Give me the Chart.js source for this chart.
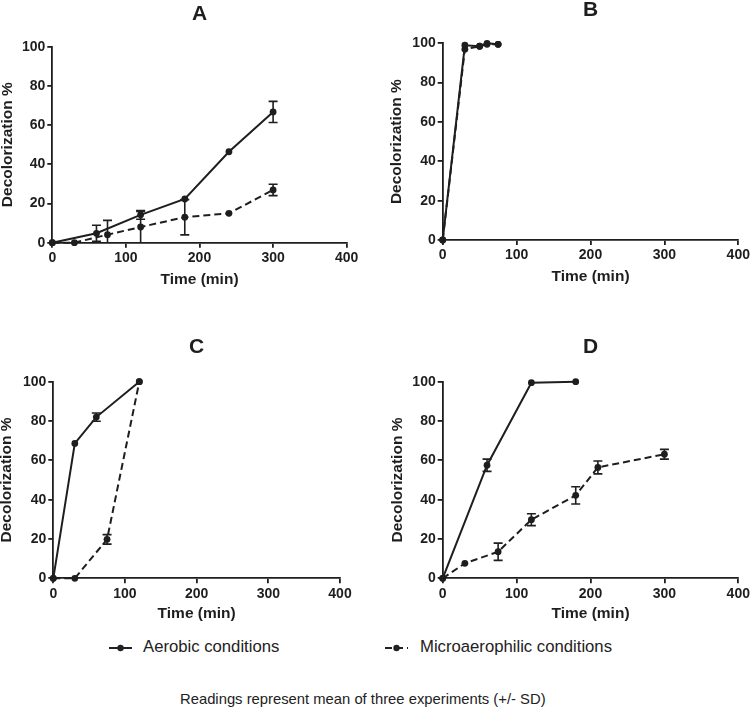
<!DOCTYPE html>
<html>
<head>
<meta charset="utf-8">
<script src="https://cdn.jsdelivr.net/npm/chart.js@4.4.1/dist/chart.umd.min.js"></script>
<style>
  body { margin: 0; background: #fff; width: 750px; height: 709px; overflow: hidden; position: relative;
         font-family: "Liberation Sans", Arial, sans-serif; color: #222; }
  canvas { position: absolute; }
  .txt { position: absolute; white-space: nowrap; line-height: 1; }
  .sym { position: absolute; }
</style>
</head>
<body>
<canvas id="cA"></canvas>
<canvas id="cB"></canvas>
<canvas id="cC"></canvas>
<canvas id="cD"></canvas>

<svg class="sym" style="left:108px;top:643px" width="26" height="10">
  <line x1="1" y1="5" x2="24" y2="5" stroke="#222" stroke-width="2"/>
  <circle cx="12.5" cy="5" r="3.2" fill="#222"/>
</svg>
<div class="txt" style="left:143px;top:639px;font-size:16.7px">Aerobic conditions</div>
<svg class="sym" style="left:384px;top:643px" width="26" height="10">
  <line x1="1" y1="5" x2="24" y2="5" stroke="#222" stroke-width="2" stroke-dasharray="7,4"/>
  <circle cx="12.5" cy="5" r="3.2" fill="#222"/>
</svg>
<div class="txt" style="left:420px;top:639px;font-size:16.7px">Microaerophilic conditions</div>
<div class="txt" style="left:180px;top:692px;font-size:14.8px">Readings represent mean of three experiments (+/- SD)</div>

<script>
// Panel A
const timeA_aer = [0, 60, 120, 180, 240, 300];
const decA_aer = [0, 4.8, 14.2, 22.3, 46.4, 66.7];
const sdA_aer = [0, 4.1, 2.2, 0, 0, 5.4];
const timeA_mic = [0, 30, 75, 120, 180, 240, 300];
const decA_mic = [0, 0, 4.1, 8, 13, 15, 26.9];
const sdA_mic = [0, 0, 7.3, 8, 9, 0, 2.9];

// Panel B
const timeB_aer = [0, 30, 50, 60, 75];
const decB_aer = [0, 99, 98.5, 100, 99.5];
const timeB_mic = [0, 30, 50, 60, 75];
const decB_mic = [0, 97, 98.5, 99.5, 99.5];

// Panel C
const timeC_aer = [0, 30, 60, 120];
const decC_aer = [0, 68.6, 82, 100];
const sdC_aer = [0, 0, 2.1, 0];
const timeC_mic = [0, 30, 75, 120];
const decC_mic = [0, 0, 19.8, 100];
const sdC_mic = [0, 0, 2.4, 0];

// Panel D
const timeD_aer = [0, 60, 120, 180];
const decD_aer = [0, 57.5, 99.5, 100];
const sdD_aer = [0, 3.1, 0, 0];
const timeD_mic = [0, 30, 75, 120, 180, 210, 300];
const decD_mic = [0, 7.6, 13.5, 29.8, 42.2, 56.4, 63.1];
const sdD_mic = [0, 0, 4.4, 3.0, 4.4, 3.3, 2.5];

const xTicks = [0, 100, 200, 300, 400];
const yTicks = [0, 20, 40, 60, 80, 100];
const seriesNames = ['Aerobic conditions', 'Microaerophilic conditions'];

const ink = '#1e1e1e';
const fontFamily = '"Liberation Sans", Arial, sans-serif';
const titleSize = 15.5;

function pts(xs, ys) {
  return xs.map((x, i) => ({ x: x, y: ys[i] }));
}

// vertical SD bars with caps, drawn through the chart's own scales
const errorBars = {
  id: 'errorBars',
  afterDatasetsDraw(chart) {
    const ctx = chart.ctx;
    const xs = chart.scales.x, ys = chart.scales.y;
    chart.data.datasets.forEach(ds => {
      if (!ds.errors) return;
      ds.data.forEach((p, i) => {
        const e = ds.errors[i];
        if (!e) return;
        const lo = Math.max(ys.min, p.y - e);
        const px = xs.getPixelForValue(p.x);
        const yTop = ys.getPixelForValue(p.y + e);
        const yBot = ys.getPixelForValue(lo);
        ctx.save();
        ctx.strokeStyle = ink;
        ctx.lineWidth = 1.6;
        ctx.setLineDash([]);
        ctx.beginPath();
        ctx.moveTo(px, yTop); ctx.lineTo(px, yBot);
        ctx.moveTo(px - 4.5, yTop); ctx.lineTo(px + 4.5, yTop);
        if (lo > ys.min) { ctx.moveTo(px - 4.5, yBot); ctx.lineTo(px + 4.5, yBot); }
        ctx.stroke();
        ctx.restore();
      });
    });
  }
};

function makeSet(label, xs, ys, errs, dashed) {
  return {
    label: label,
    data: pts(xs, ys),
    errors: errs || null,
    borderColor: ink,
    backgroundColor: ink,
    borderWidth: 2,
    borderDash: dashed ? [7, 4] : [],
    pointRadius: 3.4,
    pointHoverRadius: 3.4,
    pointBackgroundColor: ink,
    pointBorderWidth: 0,
    tension: 0,
    clip: false
  };
}

function makePanel(id, title, box, datasets) {
  const [cl, ct, cw, ch] = box.canvas;
  const [pl, pt, pr, pb] = box.plot;
  const canvas = document.getElementById(id);
  canvas.style.left = cl + 'px';
  canvas.style.top = ct + 'px';
  canvas.width = cw; canvas.height = ch;
  canvas.style.width = cw + 'px'; canvas.style.height = ch + 'px';

  const axisHalf = titleSize * 1.2 / 2;
  const padLeft = box.yTitleX - cl - axisHalf;
  const yW = pl - cl - padLeft;
  const xH = box.xTitleY + axisHalf - pb;
  const padBottom = ct + ch - pb - xH;
  const padRight = cl + cw - pr;
  const tTop = box.titleY - ct - 10.5;
  const tBottom = pt - ct - tTop - 21;

  const tickFont = { family: fontFamily, size: 14, weight: 'bold' };
  const axisFont = { family: fontFamily, size: titleSize, weight: 'bold', lineHeight: 1.2 };
  const gridOpts = { drawOnChartArea: false, drawTicks: true, tickLength: 5, color: ink, lineWidth: 1.8, tickWidth: 1.8 };

  new Chart(canvas.getContext('2d'), {
    type: 'line',
    data: { datasets: datasets },
    options: {
      responsive: false,
      animation: false,
      layout: { padding: { left: padLeft, top: 0, right: padRight, bottom: padBottom } },
      plugins: {
        legend: { display: false },
        tooltip: { enabled: false },
        title: {
          display: true, text: title, color: ink, fullSize: false,
          font: { family: fontFamily, size: 21, weight: 'bold', lineHeight: 1 },
          padding: { top: tTop, bottom: tBottom }
        }
      },
      scales: {
        x: {
          type: 'linear', min: 0, max: 400,
          afterBuildTicks: s => { s.ticks = xTicks.map(v => ({ value: v })); },
          ticks: { color: ink, font: tickFont, padding: 2, maxRotation: 0 },
          grid: gridOpts,
          border: { color: ink, width: 1.8 },
          title: { display: true, text: 'Time (min)', color: ink, font: axisFont, padding: 0 },
          afterFit: s => { s.height = xH; s.paddingLeft = 0; s.paddingRight = 0; }
        },
        y: {
          type: 'linear', min: 0, max: 100,
          afterBuildTicks: s => { s.ticks = yTicks.map(v => ({ value: v })); },
          ticks: { color: ink, font: tickFont, padding: 2 },
          grid: gridOpts,
          border: { color: ink, width: 1.8 },
          title: { display: true, text: 'Decolorization %', color: ink, font: axisFont, padding: 0 },
          afterFit: s => { s.width = yW; s.paddingTop = 0; s.paddingBottom = 0; }
        }
      }
    },
    plugins: [errorBars]
  });
}

makePanel('cA', 'A',
  { canvas: [0, 0, 375, 300], plot: [52.3, 46.7, 346.7, 242.7], titleY: 14.5, yTitleX: 7.5, xTitleY: 280 },
  [makeSet(seriesNames[0], timeA_aer, decA_aer, sdA_aer, false),
   makeSet(seriesNames[1], timeA_mic, decA_mic, sdA_mic, true)]);

makePanel('cB', 'B',
  { canvas: [375, 0, 380, 300], plot: [442.7, 43.3, 738.3, 240], titleY: 10.5, yTitleX: 397, xTitleY: 277 },
  [makeSet(seriesNames[0], timeB_aer, decB_aer, null, false),
   makeSet(seriesNames[1], timeB_mic, decB_mic, null, true)]);

makePanel('cC', 'C',
  { canvas: [0, 320, 375, 310], plot: [53.3, 381.7, 340, 578.3], titleY: 347, yTitleX: 7, xTitleY: 614 },
  [makeSet(seriesNames[0], timeC_aer, decC_aer, sdC_aer, false),
   makeSet(seriesNames[1], timeC_mic, decC_mic, sdC_mic, true)]);

makePanel('cD', 'D',
  { canvas: [375, 320, 380, 310], plot: [442.7, 381.7, 738.3, 578.3], titleY: 347, yTitleX: 398, xTitleY: 614 },
  [makeSet(seriesNames[0], timeD_aer, decD_aer, sdD_aer, false),
   makeSet(seriesNames[1], timeD_mic, decD_mic, sdD_mic, true)]);
</script>
</body>
</html>
